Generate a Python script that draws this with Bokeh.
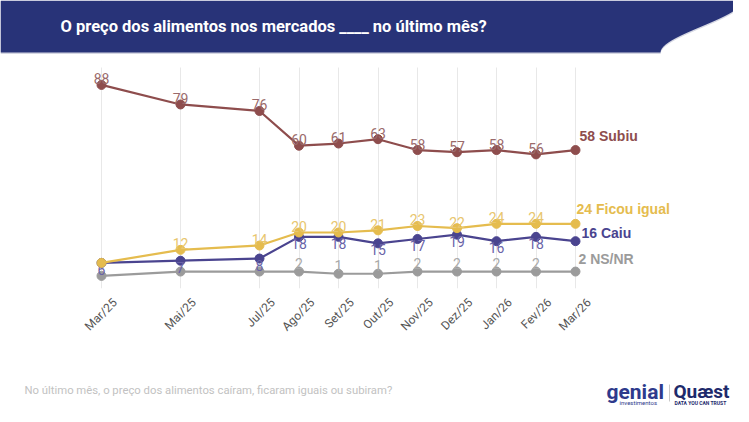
import math
from bokeh.plotting import figure
from bokeh.layouts import column
from bokeh.models import Range1d, FixedTicker, Label, BoxAnnotation
from bokeh.core.properties import value
from bokeh.embed import file_html
from bokeh.resources import INLINE

# ---------------- data ----------------
months = ["Mar/25", "Mai/25", "Jul/25", "Ago/25", "Set/25", "Out/25",
          "Nov/25", "Dez/25", "Jan/26", "Fev/26", "Mar/26"]
month_idx = [0, 2, 4, 5, 6, 7, 8, 9, 10, 11, 12]   # months since Mar/25
subiu = [88, 79, 76, 60, 61, 63, 58, 57, 58, 56, 58]
ficou_igual = [6, 12, 14, 20, 20, 21, 23, 22, 24, 24, 24]
caiu = [6, 7, 8, 18, 18, 15, 17, 19, 16, 18, 16]
ns_nr = [0, 2, 2, 2, 1, 1, 2, 2, 2, 2, 2]
series_names = ["Subiu", "Ficou igual", "Caiu", "NS/NR"]

title_text = "O preço dos alimentos nos mercados ____ no último mês?"
footer_text = "No último mês, o preço dos alimentos caíram, ficaram iguais ou subiram?"

# ---------------- style ----------------
colors = ["#8E4D4D", "#E5BC4E", "#4A448F", "#9B9B9B"]
label_colors = ["#9A6A6A", "#E8C66E", "#6A64A8", "#AAAAAA"]
HEADER = "#283378"
# point labels hidden where they collide (the last point carries the end label)
hidden_labels = {0: [], 1: [0], 2: [], 3: [0, 1, 2]}

W = 733
H_MAIN, H_FOOT = 366, 40
X0, DX = 101.0, 39.5     # px of first month, px per month
Y0, DY = 275.4, 2.17     # px of value 0, px per unit
FRAME_BOTTOM = 288
TICK_SHIFT = 0.34        # moves rotated labels so their centre sits on the gridline


def cx(px):
    return (px - X0) / DX


def cy(py):
    return (Y0 - py) / DY


p = figure(width=W, height=H_MAIN,
           x_range=Range1d(cx(0), cx(W)), y_range=Range1d(cy(FRAME_BOTTOM), cy(0)),
           output_backend="svg", toolbar_location=None, y_axis_location=None,
           min_border_left=0, min_border_right=0, min_border_top=0,
           min_border_bottom=H_MAIN - FRAME_BOTTOM)
p.outline_line_color = None
p.background_fill_color = "white"
p.border_fill_color = "white"
p.ygrid.visible = False
p.xgrid.ticker = FixedTicker(ticks=month_idx)
p.xgrid.grid_line_color = "#e8e8e8"
p.xgrid.grid_line_width = 1

shifted = [i + TICK_SHIFT for i in month_idx]
ax = p.xaxis[0]
ax.ticker = FixedTicker(ticks=shifted)
ax.major_label_overrides = {t: m for t, m in zip(shifted, months)}
ax.major_label_orientation = math.pi / 4
ax.axis_line_color = None
ax.major_tick_line_color = None
ax.minor_tick_line_color = None
ax.major_label_standoff = 6
ax.major_label_text_font = "Roboto"
ax.major_label_text_font_size = "12px"
ax.major_label_text_color = "#555555"

# hide grid above plot area
p.add_layout(BoxAnnotation(left=cx(0), right=cx(W), bottom=cy(67), top=cy(0),
                           fill_color="white", fill_alpha=1, line_color=None,
                           level="underlay"))

# ---------------- series ----------------
all_series = [subiu, ficou_igual, caiu, ns_nr]
label_offset = [-6, -6, 6.5, -8.5]
end_offsets = [(4, -14), (1, -15), (6, -8), (3, -13)]

for k in [3, 2, 1, 0]:
    vals, name, col, lcol = all_series[k], series_names[k], colors[k], label_colors[k]
    ex, ey = end_offsets[k]
    p.line(month_idx, vals, line_color=col, line_width=2.2)
    p.scatter(month_idx, vals, size=9, fill_color=col, line_color=col)
    texts = ["" if (j in hidden_labels[k] or j == len(vals) - 1) else str(v)
             for j, v in enumerate(vals)]
    p.text(month_idx, vals, text=texts, text_align="center",
           text_baseline="middle", y_offset=label_offset[k], text_font=value("Roboto"),
           text_font_size="14px", text_color=lcol)
    p.text([month_idx[-1]], [vals[-1]], text=[f"{vals[-1]} {name}"], text_align="left",
           text_baseline="middle", x_offset=ex, y_offset=ey,
           text_font=value("Liberation Sans"), text_font_style="bold",
           text_font_size="14px", text_color=col)

# ---------------- header ----------------
hx, hy = [0], [0]
for kk in range(27):
    yr = 2 * kk
    u = min(yr / 52.0, 1.0)
    s = 3 * u * u - 2 * u ** 3
    hx.append(742 - 82 * s)
    hy.append(min(yr, 52))
hx += [0]
hy += [52]
p.patch([cx(v) for v in hx], [cy(v + 1.5) for v in hy], fill_color="#d4d6e2",
        line_color=None)
p.patch([cx(v) for v in hx], [cy(v) for v in hy], fill_color=HEADER, line_color=None)

p.add_layout(Label(x=cx(60), y=cy(26), text=title_text, text_baseline="middle",
                   text_font="Roboto", text_font_style="bold", text_font_size="16.5px",
                   text_color="white"))

# ---------------- footer strip ----------------
f = figure(width=W, height=H_FOOT, x_range=Range1d(0, W),
           y_range=Range1d(H_MAIN + H_FOOT, H_MAIN),
           output_backend="svg", toolbar_location=None,
           x_axis_location=None, y_axis_location=None,
           min_border_left=0, min_border_right=0, min_border_top=0, min_border_bottom=0)
f.outline_line_color = None
f.grid.visible = False


def ftext(x, y, text, size, color, bold=False):
    f.text([x], [y], text=[text], text_baseline="middle", text_align="left",
           text_font=value("Roboto"), text_font_style="bold" if bold else "normal",
           text_font_size=size, text_color=color)


ftext(24, 390, footer_text, "11.3px", "#c2c2c2")
ftext(606, 391, "genial", "21px", "#2E3A8C", True)
ftext(619, 402, "investimentos", "6px", "#2E3A8C")
f.line([669, 669], [384, 401], line_color="#c8c8c8", line_width=1)
ftext(673, 391, "Quæst", "19px", "#1E2A6B", True)
ftext(674, 402, "DATA YOU CAN TRUST", "5px", "#1E2A6B", True)

layout = column(p, f, spacing=0)
open("out.html", "w").write(file_html(layout, INLINE))
